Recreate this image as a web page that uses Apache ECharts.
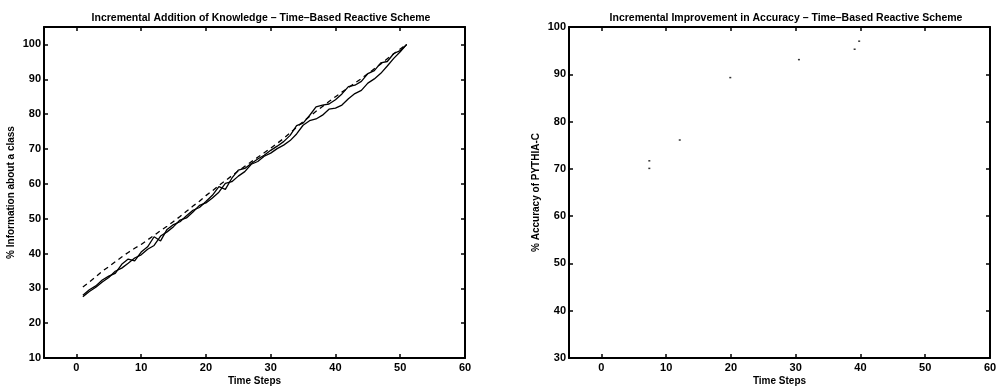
<!DOCTYPE html>
<html>
<head>
<meta charset="utf-8">
<script src="https://cdn.jsdelivr.net/npm/echarts@6/dist/echarts.min.js"></script>
<style>
  html, body { margin: 0; padding: 0; background: #fff; }
  #chart { width: 997px; height: 386px; }
</style>
</head>
<body>
<div id="chart"></div>
<script>
// Time steps shared by the knowledge curves
const timeSteps = [1,2,3,4,5,6,7,8,9,10,11,12,13,14,15,16,17,18,19,20,21,22,23,24,25,26,27,28,29,30,31,32,33,34,35,36,37,38,39,40,41,42,43,44,45,46,47,48,49,50,51];

// % information about a class, three runs
const knowledgeDashed = [30.4,31.8,33.3,34.9,36.2,37.6,39.0,40.3,41.5,42.6,43.9,45.2,46.6,47.8,49.2,50.6,52.1,53.6,55.0,56.6,58.0,59.5,60.9,62.3,63.7,65.0,66.3,67.6,68.9,70.2,71.6,73.0,74.6,76.2,77.8,79.3,80.8,82.2,83.6,85.0,86.3,87.6,88.9,90.2,91.6,93.0,94.4,95.9,97.3,98.7,100.0];
const knowledgeRunA = [28.0,29.6,30.7,32.4,33.5,34.3,36.9,38.4,37.9,40.4,41.9,44.8,43.6,46.9,48.3,49.1,50.8,52.4,53.2,54.9,56.7,59.2,58.4,61.6,63.9,64.4,65.8,67.1,68.2,69.6,70.8,72.1,73.9,76.7,77.4,79.6,82.1,82.6,82.9,84.1,85.8,87.9,88.3,89.4,91.6,92.5,94.7,95.1,97.4,98.2,100.0];
const knowledgeRunB = [27.6,29.1,30.3,31.8,33.1,34.9,35.8,37.2,38.7,39.6,41.2,42.3,45.0,46.2,47.7,49.6,50.2,51.9,53.8,54.5,55.9,57.6,60.1,60.6,62.2,63.5,65.6,66.4,67.9,68.8,70.1,71.1,72.4,74.3,76.8,78.1,78.6,79.7,81.4,81.7,82.6,84.4,85.9,86.8,88.9,90.1,91.7,93.8,96.0,97.9,100.0];

// Accuracy of PYTHIA-C at selected time steps
const accuracySteps = [7.4, 7.4, 12.1, 19.9, 30.5, 39.1, 39.8];
const accuracyValues = [71.7, 70.1, 76.1, 89.3, 93.1, 95.3, 97.0];

// Tick labels
const xTicks = [0, 10, 20, 30, 40, 50, 60];
const yTicksLeft = [10, 20, 30, 40, 50, 60, 70, 80, 90, 100];
const yTicksRight = [30, 40, 50, 60, 70, 80, 90, 100];

const FONT = 'Liberation Sans, Arial, sans-serif';
const chart = echarts.init(document.getElementById('chart'), null, { renderer: 'canvas' });

function pair(xs, ys) { return xs.map((x, i) => [x, ys[i]]); }

function xAxisPair(gridIndex) {
  const base = {
    type: 'value', gridIndex, min: -5, max: 60,
    axisLine: { show: true, onZero: false, lineStyle: { color: '#000', width: 2 } },
    splitLine: { show: false },
    axisTick: { show: true, inside: true, length: 4, customValues: xTicks, lineStyle: { color: '#000', width: 1.5 } }
  };
  return [
    Object.assign({}, base, {
      position: 'bottom',
      name: 'Time Steps', nameLocation: 'middle', nameGap: 18, nameMoveOverlap: false,
      nameTextStyle: { fontFamily: FONT, fontSize: 10, fontWeight: 'bold', color: '#000', verticalAlign: 'top' },
      axisLabel: { show: true, customValues: xTicks, margin: 4, fontFamily: FONT, fontSize: 11, fontWeight: 'bold', color: '#000' }
    }),
    Object.assign({}, base, { position: 'top', axisLabel: { show: false } })
  ];
}

function yAxisPair(gridIndex, min, max, ticks, name) {
  const base = {
    type: 'value', gridIndex, min, max,
    axisLine: { show: true, onZero: false, lineStyle: { color: '#000', width: 2 } },
    splitLine: { show: false },
    axisTick: { show: true, inside: true, length: 4, customValues: ticks, lineStyle: { color: '#000', width: 1.5 } }
  };
  return [
    Object.assign({}, base, {
      position: 'left',
      name, nameLocation: 'middle', nameGap: 28, nameRotate: 90, nameMoveOverlap: false,
      nameTextStyle: { fontFamily: FONT, fontSize: 10, fontWeight: 'bold', color: '#000' },
      axisLabel: { show: true, customValues: ticks, margin: 3, fontFamily: FONT, fontSize: 11, fontWeight: 'bold', color: '#000' }
    }),
    Object.assign({}, base, { position: 'right', axisLabel: { show: false } })
  ];
}

const lineStyleBase = { color: '#000', width: 1.3 };

const option = {
  backgroundColor: '#fff',
  animation: false,
  title: [
    { text: 'Incremental Addition of Knowledge – Time–Based Reactive Scheme', left: 256, top: 8, textAlign: 'center',
      textStyle: { fontFamily: FONT, fontSize: 10.5, fontWeight: 'bold', color: '#000' } },
    { text: 'Incremental Improvement in Accuracy – Time–Based Reactive Scheme', left: 781, top: 8, textAlign: 'center',
      textStyle: { fontFamily: FONT, fontSize: 10.5, fontWeight: 'bold', color: '#000' } }
  ],
  grid: [
    { left: 44, right: 532, top: 27, bottom: 28, containLabel: false, outerBoundsMode: 'none' },
    { left: 569, right: 7, top: 27, bottom: 28, containLabel: false, outerBoundsMode: 'none' }
  ],
  xAxis: [].concat(xAxisPair(0), xAxisPair(1)),
  yAxis: [].concat(
    yAxisPair(0, 10, 105, yTicksLeft, '% Information about a class'),
    yAxisPair(1, 30, 100, yTicksRight, '% Accuracy of PYTHIA-C')
  ),
  series: [
    { type: 'line', xAxisIndex: 0, yAxisIndex: 0, data: pair(timeSteps, knowledgeDashed), showSymbol: false,
      lineStyle: Object.assign({}, lineStyleBase, { type: [5, 4] }) },
    { type: 'line', xAxisIndex: 0, yAxisIndex: 0, data: pair(timeSteps, knowledgeRunA), showSymbol: false,
      lineStyle: lineStyleBase },
    { type: 'line', xAxisIndex: 0, yAxisIndex: 0, data: pair(timeSteps, knowledgeRunB), showSymbol: false,
      lineStyle: lineStyleBase },
    { type: 'scatter', xAxisIndex: 2, yAxisIndex: 2, data: pair(accuracySteps, accuracyValues),
      symbol: 'rect', symbolSize: [2, 1.5], itemStyle: { color: '#000' } }
  ]
};

chart.setOption(option);
</script>
</body>
</html>
